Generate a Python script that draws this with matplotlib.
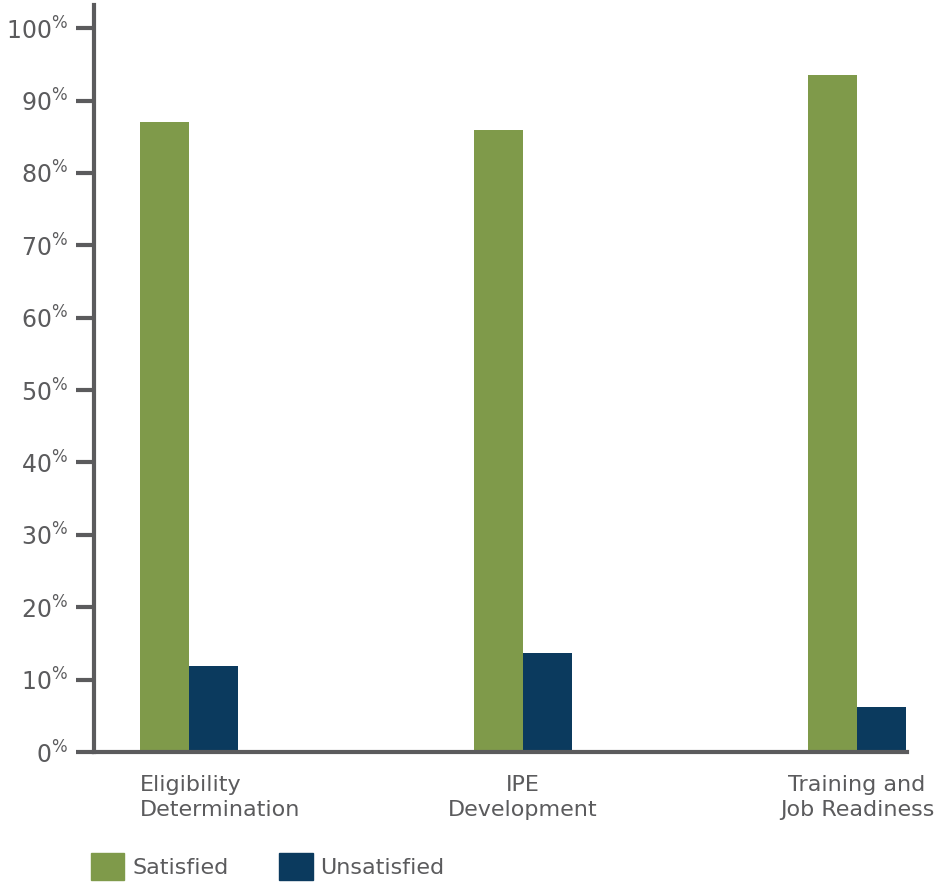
import matplotlib
matplotlib.use("Agg")
import matplotlib.pyplot as plt
from matplotlib.patches import Patch
from matplotlib.ticker import FuncFormatter
import numpy as np

categories = ["Eligibility\nDetermination", "IPE\nDevelopment", "Training and\nJob Readiness"]
satisfied = [87.0, 85.9, 93.5]
unsatisfied = [11.9, 13.7, 6.2]
yticks = [0, 10, 20, 30, 40, 50, 60, 70, 80, 90, 100]

green = "#7f9a4a"
navy = "#0b3a5e"
gray = "#5b5b5d"

plt.rcParams['font.family'] = ['DejaVu Sans']

fig = plt.figure(figsize=(9.45, 8.82), dpi=100)
ax = fig.add_axes([94/945, 130/882, (907-94)/945, (752-5)/882])

x = np.arange(len(categories))
w = 49/334
ax.bar(x - w/2, satisfied, width=w, color=green)
ax.bar(x + w/2, unsatisfied, width=w, color=navy)

ax.set_xlim(-0.284, 2.150)
ax.set_ylim(0, 103.2)
ax.set_yticks(yticks)
ax.yaxis.set_major_formatter(FuncFormatter(lambda v, p: f"{v:.0f}$^{{\\%}}$"))
ax.tick_params(axis='y', length=13, width=3, color=gray, labelcolor=gray,
               labelsize=17, pad=6)
ax.set_xticks([])

for s in ['top', 'right']:
    ax.spines[s].set_visible(False)
for s in ['left', 'bottom']:
    ax.spines[s].set_color(gray)
    ax.spines[s].set_linewidth(3)

# category labels
ax.text(x[0] - w, -3.2, categories[0], ha='left', va='top', fontsize=16,
        color=gray, linespacing=1.3)
for i in [1, 2]:
    ax.text(x[i], -3.2, categories[i], ha='center', va='top', fontsize=16,
            color=gray, linespacing=1.3)

handles = [Patch(color=green, label="Satisfied"), Patch(color=navy, label="Unsatisfied")]
leg = fig.legend(handles=handles, loc='lower left', bbox_to_anchor=(91/945, 2/882),
                 ncol=2, frameon=False, fontsize=16, handlelength=1.5, handleheight=1.5,
                 handletextpad=0.35, columnspacing=2.3, borderpad=0, borderaxespad=0)
for t in leg.get_texts():
    t.set_color(gray)

fig.savefig("out.png", dpi=100)
